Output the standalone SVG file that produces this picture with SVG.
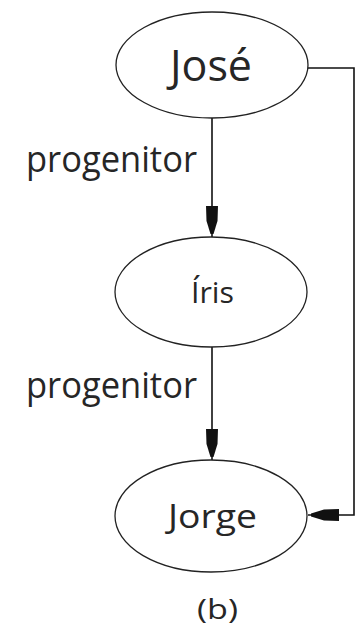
<svg xmlns="http://www.w3.org/2000/svg" width="356" height="629" viewBox="0 0 356 629">
  <style>
    .node ellipse { fill: #fff; stroke: #222; stroke-width: 1.3; }
    .node text, .label { font-family: "Open Sans", "DejaVu Sans", sans-serif; fill: #262626; }
    .edge { fill: none; stroke: #111; stroke-width: 1.6; }
  </style>
  <defs>
    <marker id="arrow" markerUnits="userSpaceOnUse" markerWidth="34" markerHeight="14" viewBox="0 -7 34 14" refX="31" refY="0" orient="auto">
      <path d="M0,-6 L15,-5.5 L28,-1.5 L28,1.5 L15,5.5 L0,6 Z" fill="#111"/>
    </marker>
  </defs>
  <rect width="356" height="629" fill="#fff"/>

  <g id="edges">
    <line class="edge" x1="212" y1="118" x2="212" y2="237" marker-end="url(#arrow)"/>
    <line class="edge" x1="212" y1="347" x2="212" y2="460" marker-end="url(#arrow)"/>
    <path class="edge" d="M308,68 H354 V515 H308" marker-end="url(#arrow)"/>
    <text class="label" x="26" y="172" font-size="36" textLength="171" lengthAdjust="spacingAndGlyphs">progenitor</text>
    <text class="label" x="26" y="398" font-size="36" textLength="171" lengthAdjust="spacingAndGlyphs">progenitor</text>
  </g>

  <g id="jose" class="node">
    <ellipse cx="212" cy="65" rx="96" ry="53"/>
    <text x="170" y="81" font-size="44" textLength="82" lengthAdjust="spacingAndGlyphs">José</text>
  </g>
  <g id="iris" class="node">
    <ellipse cx="211" cy="292" rx="96" ry="55"/>
    <text x="191" y="303" font-size="30" textLength="43" lengthAdjust="spacingAndGlyphs">Íris</text>
  </g>
  <g id="jorge" class="node">
    <ellipse cx="211" cy="516" rx="96" ry="56"/>
    <text x="168" y="528" font-size="32" textLength="89" lengthAdjust="spacingAndGlyphs">Jorge</text>
  </g>

  <text class="label" x="197" y="619" font-size="28" textLength="41" lengthAdjust="spacingAndGlyphs">(b)</text>
</svg>
